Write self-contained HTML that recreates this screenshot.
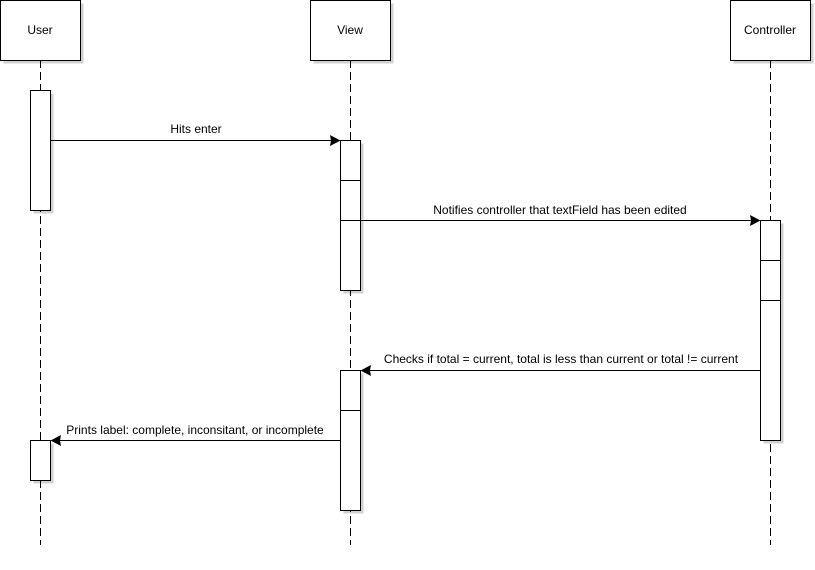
<!DOCTYPE html>
<html><head><meta charset="utf-8"><style>body{margin:0;background:#fff}</style></head><body>
<svg width="815" height="565" xmlns="http://www.w3.org/2000/svg" font-family="Liberation Sans, sans-serif" font-size="12">
<g fill="#d0d0d0">
<rect x="3.5" y="3.5" width="80" height="60"/><rect x="313.5" y="3.5" width="80" height="60"/><rect x="733.5" y="3.5" width="80" height="60"/>
<rect x="33.5" y="93.5" width="20" height="120"/><rect x="343.5" y="143.5" width="20" height="150"/><rect x="763.5" y="223.5" width="20" height="220"/><rect x="343.5" y="373.5" width="20" height="140"/><rect x="33.5" y="443.5" width="20" height="40"/>
</g>
<g stroke="#000" stroke-dasharray="8,4" fill="none">
<line x1="40.5" y1="60" x2="40.5" y2="545"/><line x1="350.5" y1="60" x2="350.5" y2="545"/><line x1="770.5" y1="60" x2="770.5" y2="545"/>
</g>
<g stroke="#000" fill="#fff">
<rect x="0.5" y="0.5" width="80" height="60"/><rect x="310.5" y="0.5" width="80" height="60"/><rect x="730.5" y="0.5" width="80" height="60"/>
<rect x="30.5" y="90.5" width="20" height="120"/>
<rect x="340.5" y="140.5" width="20" height="150"/><line x1="340.5" y1="180.5" x2="360.5" y2="180.5"/><line x1="340.5" y1="220.5" x2="360.5" y2="220.5"/>
<rect x="760.5" y="220.5" width="20" height="220"/><line x1="760.5" y1="260.5" x2="780.5" y2="260.5"/><line x1="760.5" y1="300.5" x2="780.5" y2="300.5"/>
<rect x="340.5" y="370.5" width="20" height="140"/><line x1="340.5" y1="410.5" x2="360.5" y2="410.5"/>
<rect x="30.5" y="440.5" width="20" height="40"/>
</g>
<g stroke="#000">
<line x1="50.5" y1="140.5" x2="333" y2="140.5"/><line x1="360.5" y1="220.5" x2="753" y2="220.5"/><line x1="760.5" y1="370.5" x2="368" y2="370.5"/><line x1="340.5" y1="440.5" x2="58" y2="440.5"/>
</g>
<g fill="#000">
<polygon points="340.5,140.5 330,135 331,140.5 330,146"/>
<polygon points="760.5,220.5 750,215 751,220.5 750,226"/>
<polygon points="360.5,370.5 371,365 370,370.5 371,376"/>
<polygon points="50.5,440.5 61,435 60,440.5 61,446"/>
</g>
<g fill="#000" text-anchor="middle" font-size="12">
<text x="40" y="34">User</text><text x="350" y="34">View</text><text x="770" y="34">Controller</text>
</g>
<g fill="#000" text-anchor="middle" font-size="12">
<text x="196" y="133">Hits enter</text>
<text x="560" y="214">Notifies controller that textField has been edited</text>
<text x="561" y="363">Checks if total = current, total is less than current or total != current</text>
<text x="195" y="434">Prints label: complete, inconsitant, or incomplete</text>
</g>
</svg>
</body></html>
